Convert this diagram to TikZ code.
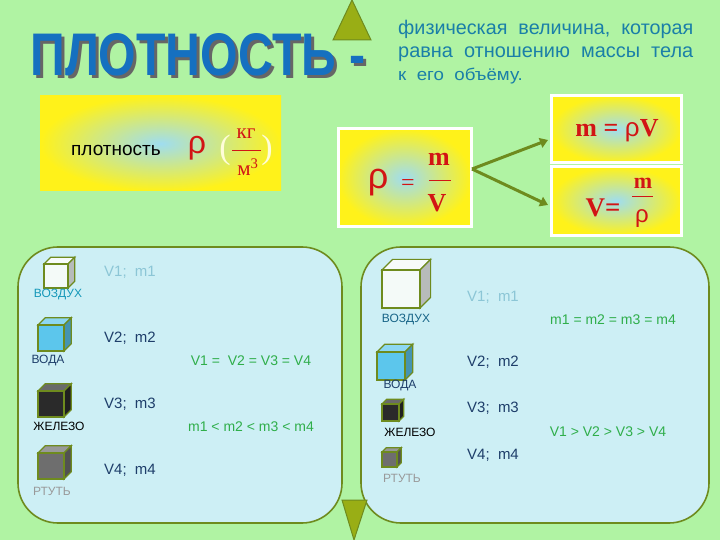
\documentclass[tikz,border=0pt]{standalone}
\usepackage{fontspec}
\usepackage{graphicx}
\setmainfont{Liberation Sans}
\newfontfamily\serifb{Liberation Serif}
\newfontfamily\titlef{Liberation Sans}
\usetikzlibrary{arrows.meta}
\definecolor{bgg}{HTML}{B0F3A3}
\definecolor{pan}{HTML}{CDEFF5}
\definecolor{olv}{HTML}{6E8B1E}
\definecolor{ttl}{HTML}{1570C0}
\definecolor{dsc}{HTML}{1A7FA8}
\definecolor{rd}{HTML}{D21414}
\definecolor{grn}{HTML}{2FAE4A}
\definecolor{fad}{HTML}{8CC6D6}
\definecolor{nav}{HTML}{1E3E6A}
\definecolor{yel}{HTML}{FFF21A}
\definecolor{cen}{HTML}{9FDDF0}
\definecolor{cwhite}{HTML}{F4FAF8}
\definecolor{cwater}{HTML}{5CC6EC}
\definecolor{ciron}{HTML}{2A2A2A}
\definecolor{cmerc}{HTML}{6E6E6E}
\tikzset{
 panel/.style={draw=olv,line width=1.6pt,fill=pan,rounded corners=40pt},
 lab/.style={font=\fontsize{12}{14}\selectfont,inner sep=0pt},
 vm/.style={lab,font=\fontsize{15}{17}\selectfont},
 rel/.style={lab,font=\fontsize{14}{16}\selectfont,text=grn},
 tri/.style={fill=olv!70!yellow,draw=olv,line width=1pt},
 arr/.style={draw=olv,line width=3pt,-{Triangle[length=8pt,width=10pt]}},
 fbox/.style={draw=white,line width=3pt},
 form/.style={text=rd,inner sep=0pt},
 bar/.style={draw=rd,line width=1pt}
}
\newcommand\mycube[4]{% x y size color (x,y top-left of front)
 \pgfmathsetmacro\dd{0.28*#3}
 \filldraw[draw=olv,line width=1.2pt,fill=#4!70!white] (#1,#2)--++(\dd,-\dd)--++(#3,0)--++(-\dd,\dd)--cycle;
 \filldraw[draw=olv,line width=1.2pt,fill=#4!75!black] (#1+#3,#2)--++(\dd,-\dd)--++(0,#3)--++(-\dd,\dd)--cycle;
 \filldraw[draw=olv,line width=1.2pt,fill=#4] (#1,#2) rectangle ++(#3,#3);
}
\newcommand\jl[1]{\resizebox{295pt}{!}{#1}}
\begin{document}
\begin{tikzpicture}[x=1pt,y=-1pt]
\fill[bgg] (0,0) rectangle (720,540);
\useasboundingbox (0,0) rectangle (720,540);
% title
\node[text=black!60,inner sep=0pt] at (201,58) {\resizebox{335pt}{42pt}{\titlef\bfseries ПЛОТНОСТЬ -}};
\node[text=ttl,inner sep=0pt] (title) at (198,55) {\resizebox{335pt}{42pt}{\titlef\bfseries ПЛОТНОСТЬ -}};
\filldraw[tri] (352,0)--(371,40)--(333,40)--cycle;
\node[text=dsc,font=\fontsize{17}{23}\selectfont,align=left,inner sep=0pt,anchor=north west] (desc) at (398,20)
{\jl{физическая\ \ величина,\ \ которая}\\\jl{равна\ \ отношению\ \ массы\ \ тела}\\\scalebox{1.1}[1]{к\ \ его\ \ объёму.}};
% box1
\shade[inner color=cen,outer color=yel] (40,96) rectangle (281,191);
\node[font=\fontsize{19}{20}\selectfont,inner sep=0pt] (b1) at (116,150) {плотность};
\node[form,font=\fontsize{32}{32}\selectfont] (rho1) at (197,148) {ρ};
\node[text=white!85!yellow,inner sep=0pt,font=\serifb\fontsize{34}{34}\selectfont] (lp) at (225,150) {(};
\node[text=white!85!yellow,inner sep=0pt,font=\serifb\fontsize{34}{34}\selectfont] (rp) at (267,150) {)};
\node[form,font=\serifb\fontsize{21}{21}\selectfont] (kg) at (246,134) {кг};
\draw[bar] (232,151) -- (261,151);
\node[form,font=\serifb\fontsize{21}{21}\selectfont] (m3) at (248,167) {м\textsuperscript{3}};
% box2
\shade[inner color=cen,outer color=yel] (338,129) rectangle (471,227);
\draw[fbox] (338,129) rectangle (471,227);
\node[form,font=\fontsize{36}{36}\selectfont] (rho2) at (378,183) {ρ};
\node[form,font=\serifb\fontsize{24}{24}\selectfont] (eq2) at (408,185) {=};
\node[form,font=\serifb\bfseries\fontsize{26}{26}\selectfont] (fm2) at (439,159) {m};
\draw[bar] (429,181) -- (451,181);
\node[form,font=\serifb\bfseries\fontsize{26}{26}\selectfont] (fv2) at (437,203) {V};
% box3, box4
\shade[inner color=cen,outer color=yel] (551,96) rectangle (681,163);
\draw[fbox] (551,96) rectangle (681,163);
\node[form,font=\serifb\bfseries\fontsize{26}{26}\selectfont] (f3) at (617,131) {m = {\fontspec{Liberation Sans}\mdseries ρ}V};
\shade[inner color=cen,outer color=yel] (551,167) rectangle (681,235);
\draw[fbox] (551,167) rectangle (681,235);
\node[form,font=\serifb\bfseries\fontsize{27}{27}\selectfont] (f4a) at (603,208) {V=};
\node[form,font=\serifb\bfseries\fontsize{22}{22}\selectfont] (fm4) at (643,183) {m};
\draw[bar] (632,197) -- (653,197);
\node[form,font=\fontsize{24}{24}\selectfont] (fr4) at (642,219) {ρ};
\coordinate (as) at (472,169);
\draw[arr] (as) -- (548,140);
\draw[arr] (as) -- (548,205);
% panels
\draw[panel] (18,247) rectangle (342,523);
\draw[panel] (361,247) rectangle (709,523);
\filldraw[tri] (342,500)--(367,500)--(354,540)--cycle;
% left panel
\mycube{44}{264}{24}{cwhite}
\node[lab,text=dsc!80!cyan] (l1) at (58,295) {ВОЗДУХ};
\node[vm,text=fad] (lv1) at (130,272) {V1;\ \ m1};
\mycube{38}{325}{26}{cwater}
\node[lab,text=nav] (l2) at (48,361) {ВОДА};
\node[vm,text=nav] (lv2) at (130,338) {V2;\ \ m2};
\mycube{38}{391}{26}{ciron}
\node[lab] (l3) at (59,426) {ЖЕЛЕЗО};
\node[vm,text=nav] (lv3) at (130,404) {V3;\ \ m3};
\mycube{38}{453}{26}{cmerc}
\node[lab,text=black!40] (l4) at (52,491) {РТУТЬ};
\node[vm,text=nav] (lv4) at (130,470) {V4;\ \ m4};
\node[rel] (r1) at (251,361) {V1 =\ \ V2 = V3 = V4};
\node[rel] (r2) at (251,427) {m1 < m2 < m3 < m4};
% right panel
\mycube{382}{270}{38}{cwhite}
\node[lab,text=nav!80!cyan] (rl1) at (406,320) {ВОЗДУХ};
\node[vm,text=fad] (rv1) at (493,297) {V1;\ \ m1};
\node[rel] (rr1) at (613,320) {m1 = m2 = m3 = m4};
\mycube{377}{352}{28}{cwater}
\node[lab,text=nav] (rl2) at (400,386) {ВОДА};
\node[vm,text=nav] (rv2) at (493,362) {V2;\ \ m2};
\mycube{382}{404}{17}{ciron}
\node[lab] (rl3) at (410,432) {ЖЕЛЕЗО};
\node[vm,text=nav] (rv3) at (493,408) {V3;\ \ m3};
\node[rel] (rr2) at (608,432) {V1 > V2 > V3 > V4};
\mycube{382}{452}{15}{cmerc}
\node[lab,text=black!40] (rl4) at (402,478) {РТУТЬ};
\node[vm,text=nav] (rv4) at (493,455) {V4;\ \ m4};
\end{tikzpicture}
\end{document}
